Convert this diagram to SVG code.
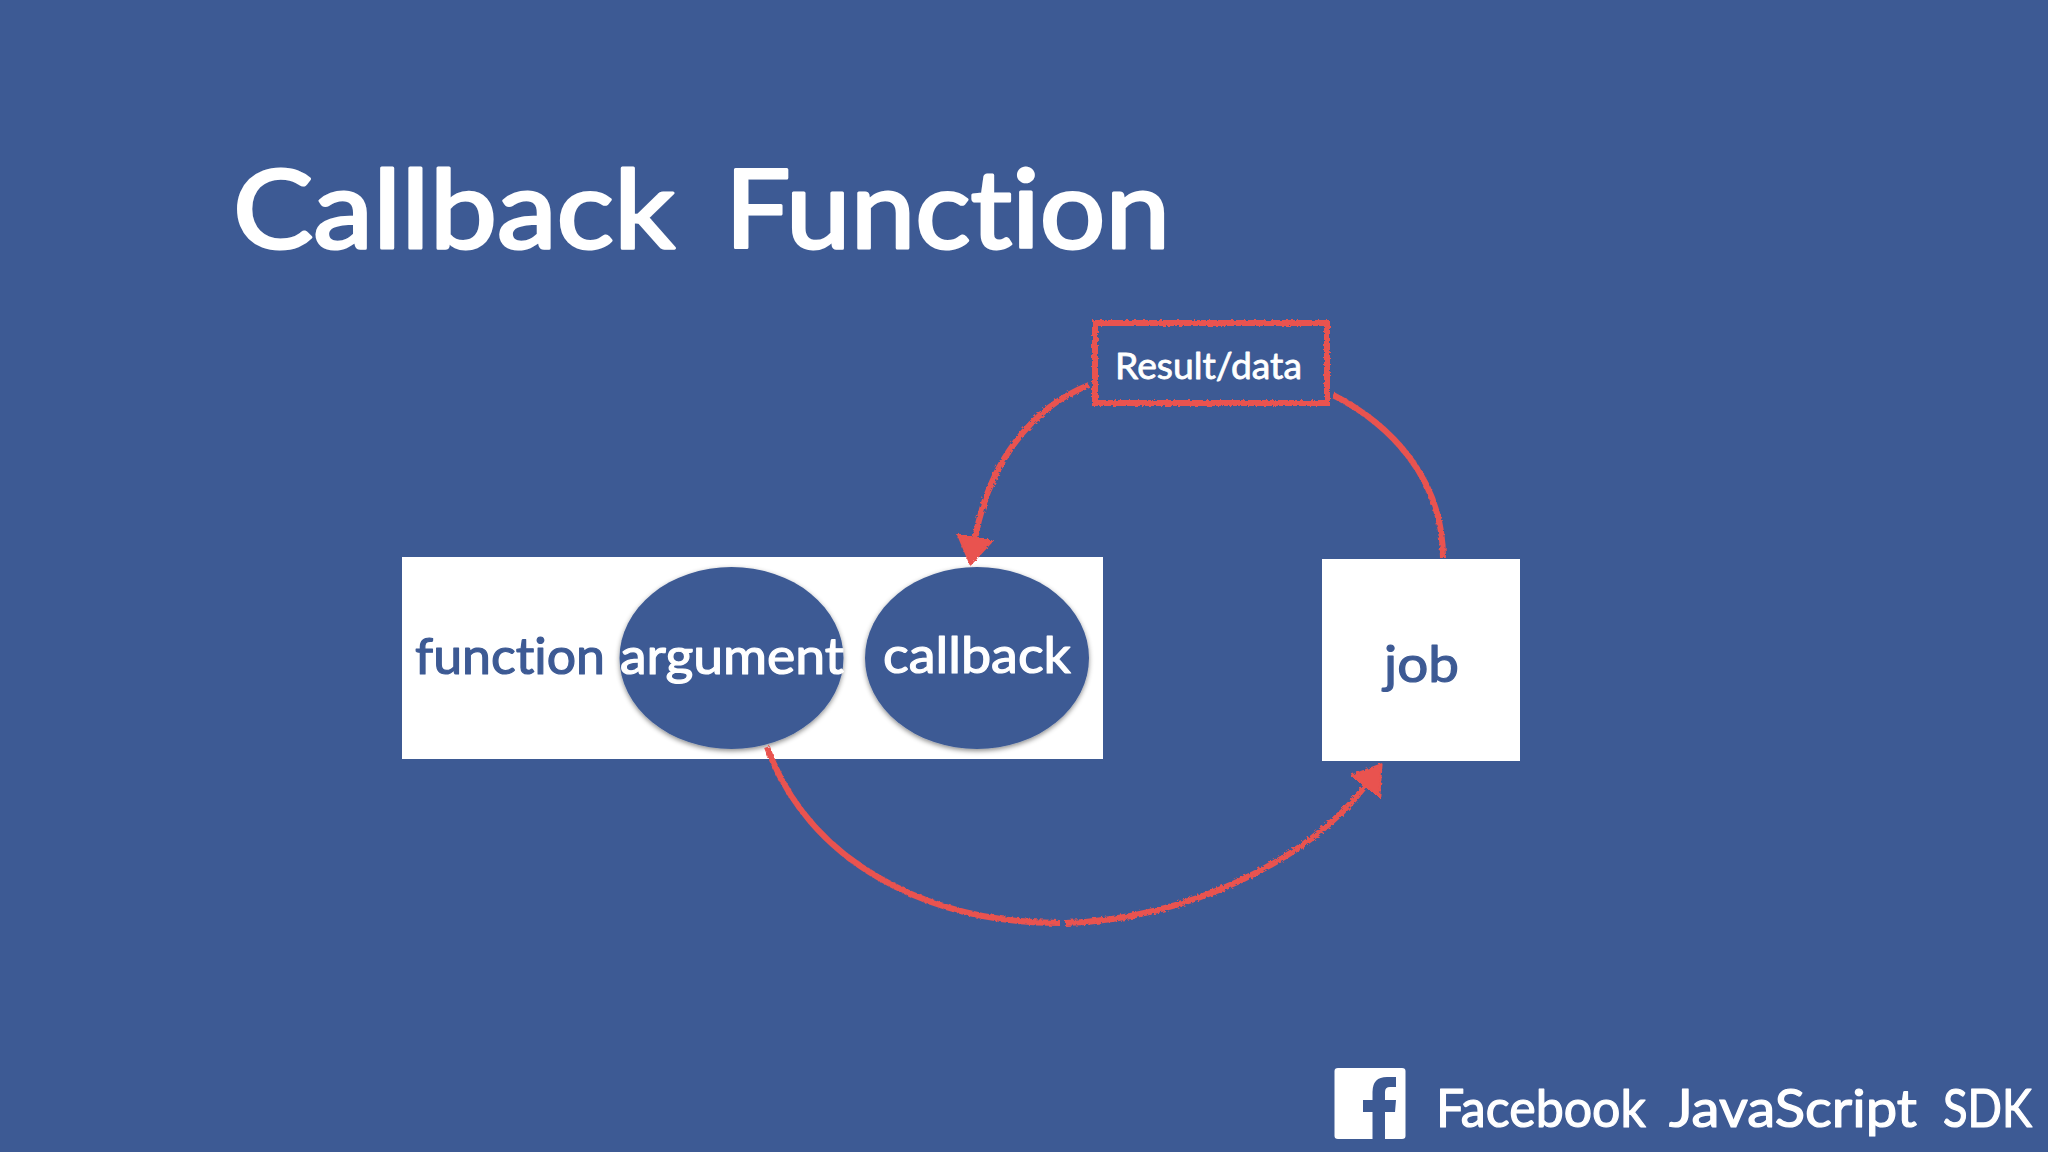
<svg xmlns="http://www.w3.org/2000/svg" width="2048" height="1152" viewBox="0 0 2048 1152">
<style>
text{font-family:"Lato","Noto Sans","Liberation Sans",sans-serif;font-variant-ligatures:none;stroke-linejoin:round;stroke-linecap:round}
.w{fill:#fff;stroke:#fff}
.b{fill:#3d5a94;stroke:#3d5a94}
.box{fill:#fff}
.el{fill:#3d5a94;filter:url(#sh)}
.c{fill:none;stroke:#e9524f;stroke-width:6}
.lb{font-size:50px;stroke-width:1.2}
</style>
<defs>
<filter id="chalk" x="-5%" y="-5%" width="110%" height="110%"><feTurbulence type="fractalNoise" baseFrequency="0.35" numOctaves="2" seed="4"/><feDisplacementMap in="SourceGraphic" scale="4"/></filter>
<filter id="sh" x="-10%" y="-10%" width="120%" height="125%"><feDropShadow dx="0" dy="2" stdDeviation="2.5" flood-color="#000" flood-opacity=".45"/></filter>
<marker id="ah" markerUnits="userSpaceOnUse" markerWidth="44" markerHeight="44" refX="2" refY="20" orient="auto"><path d="M0 2L28 20L0 38Z" fill="#e9524f" stroke="#e9524f" stroke-width="2" stroke-linejoin="round"/></marker>
</defs>
<rect width="2048" height="1152" fill="#3d5a94"/>
<text id="title" class="w" y="248" font-size="108" stroke-width="3"><tspan x="233" textLength="442" lengthAdjust="spacingAndGlyphs">Callback</tspan> <tspan x="725" textLength="445" lengthAdjust="spacingAndGlyphs">Function</tspan></text>
<g id="function-node">
<rect class="box" x="402" y="557" width="701" height="202"/>
<text class="b lb" x="415" y="674" textLength="190" lengthAdjust="spacingAndGlyphs">function</text>
</g>
<g id="argument-node">
<ellipse class="el" cx="731.500" cy="658" rx="112" ry="91"/>
<text class="w lb" x="620" y="674" textLength="224" lengthAdjust="spacingAndGlyphs">argument</text>
</g>
<g id="callback-node">
<ellipse class="el" cx="977" cy="658" rx="112" ry="91"/>
<text class="w lb" x="883" y="673" textLength="188" lengthAdjust="spacingAndGlyphs">callback</text>
</g>
<g id="job-node">
<rect class="box" x="1322" y="559" width="198" height="202"/>
<text class="b lb" x="1384" y="682" textLength="75" lengthAdjust="spacingAndGlyphs">job</text>
</g>
<g id="result-node">
<rect class="c" x="1095" y="323" width="232" height="80" filter="url(#chalk)"/>
<text class="w" x="1115" y="379" font-size="37" stroke-width=".8" textLength="187" lengthAdjust="spacingAndGlyphs">Result/data</text>
</g>
<g id="connectors" filter="url(#chalk)">
<path class="c" d="M1089 385C1030 408 988 465 975 539" marker-end="url(#ah)"/>
<path class="c" d="M1333 395C1390 424 1443 478 1443 558"/>
<path class="c" d="M767 747C808 860 925 923 1060 923M1065 923C1185 920 1310 860 1366 785" marker-end="url(#ah)"/>
</g>
<g id="footer">
<path fill="#fff" fill-rule="evenodd" d="M1338 1068H1402Q1405.500 1068 1405.500 1071V1136Q1405.500 1139 1402 1139H1385V1112H1395L1396 1100H1385V1092Q1385 1087 1390 1087H1396V1077H1387Q1372.500 1077 1372.500 1092V1100H1363V1112H1372.500V1139H1338Q1334.500 1139 1334.500 1136V1071Q1334.500 1068 1338 1068Z"/>
<text class="w" y="1127" font-size="52" stroke-width="1.2"><tspan x="1436" textLength="210" lengthAdjust="spacingAndGlyphs">Facebook</tspan> <tspan x="1669" textLength="248" lengthAdjust="spacingAndGlyphs">JavaScript</tspan> <tspan x="1943" textLength="89" lengthAdjust="spacingAndGlyphs">SDK</tspan></text>
</g>
</svg>
